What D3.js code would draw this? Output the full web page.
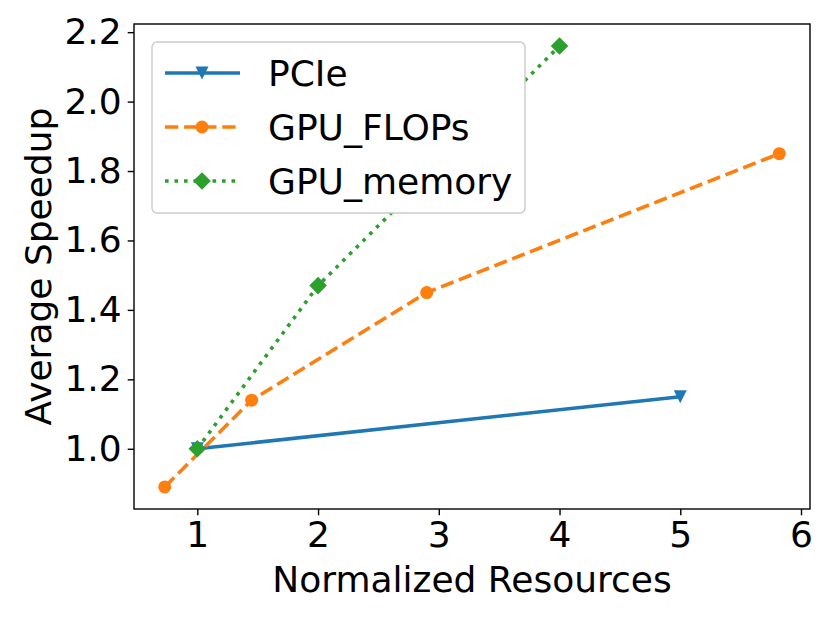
<!DOCTYPE html>
<html>
<meta charset="utf-8">
<script src="https://d3js.org/d3.v7.min.js"></script>
<style>
  body { margin: 0; background: #fff; }
  text { font-family: "DejaVu Sans", sans-serif; fill: #000; }
</style>
<body>
<script>
  // data
  var seriesNames = ["PCIe", "GPU_FLOPs", "GPU_memory"];
  var pcieX = [1, 5];
  var pcieY = [1.0, 1.15];
  var flopsX = [0.73, 1.45, 2.9, 5.82];
  var flopsY = [0.89, 1.14, 1.45, 1.85];
  var memX = [1, 2, 4];
  var memY = [1.0, 1.47, 2.16];
  var xTicks = [1, 2, 3, 4, 5, 6];
  var yTicks = [1.0, 1.2, 1.4, 1.6, 1.8, 2.0, 2.2];

  var width = 830, height = 622;
  var mLeft = 134, mRight = 810, mTop = 24, mBottom = 509;
  var fs = 36;

  var svg = d3.select("body").append("svg")
    .attr("width", width).attr("height", height);

  var xScale = d3.scaleLinear().domain([0.4755, 6.0745]).range([mLeft, mRight]);
  var yScale = d3.scaleLinear().domain([0.8265, 2.2235]).range([mBottom, mTop]);

  var series = [
    { name: seriesNames[0], xs: pcieX, ys: pcieY, color: "#1f77b4", dash: null, marker: "tri" },
    { name: seriesNames[1], xs: flopsX, ys: flopsY, color: "#ff7f0e", dash: "13.3,5.8", marker: "circle" },
    { name: seriesNames[2], xs: memX, ys: memY, color: "#2ca02c", dash: "3.6,5.9", marker: "diamond" }
  ];

  var line = d3.line()
    .x(function(d) { return xScale(d[0]); })
    .y(function(d) { return yScale(d[1]); });

  function drawMarker(g, type, x, y, color) {
    if (type == "circle") {
      g.append("circle").attr("cx", x).attr("cy", y).attr("r", 6.5).attr("fill", color);
    } else if (type == "tri") {
      var s = 6.5;
      g.append("path")
        .attr("d", "M" + (x - s) + "," + (y - s) + "L" + (x + s) + "," + (y - s) + "L" + x + "," + (y + s) + "Z")
        .attr("fill", color);
    } else {
      var s2 = 8.8;
      g.append("path")
        .attr("d", "M" + x + "," + (y - s2) + "L" + (x + s2) + "," + y + "L" + x + "," + (y + s2) + "L" + (x - s2) + "," + y + "Z")
        .attr("fill", color);
    }
  }

  var plot = svg.append("g");
  series.forEach(function(s) {
    var pts = s.xs.map(function(x, i) { return [x, s.ys[i]]; });
    plot.append("path")
      .datum(pts)
      .attr("d", line)
      .attr("fill", "none")
      .attr("stroke", s.color)
      .attr("stroke-width", 3.6)
      .attr("stroke-dasharray", s.dash);
    pts.forEach(function(p) {
      drawMarker(plot, s.marker, xScale(p[0]), yScale(p[1]), s.color);
    });
  });

  // axes
  var axisX = d3.axisBottom(xScale).tickValues(xTicks).tickSize(6.3).tickPadding(6)
    .tickFormat(d3.format("d"));
  var axisY = d3.axisLeft(yScale).tickValues(yTicks).tickSize(6.3).tickPadding(6)
    .tickFormat(d3.format(".1f"));

  var gx = svg.append("g").attr("transform", "translate(0," + mBottom + ")").call(axisX);
  var gy = svg.append("g").attr("transform", "translate(" + mLeft + ",0)").call(axisY);
  [gx, gy].forEach(function(g) {
    g.select(".domain").remove();
    g.selectAll("line").attr("stroke", "#000").attr("stroke-width", 1.4);
    g.selectAll("text").attr("font-size", fs).attr("font-family", "DejaVu Sans").attr("fill", "#000");
  });

  // frame
  svg.append("rect")
    .attr("x", mLeft).attr("y", mTop)
    .attr("width", mRight - mLeft).attr("height", mBottom - mTop)
    .attr("fill", "none").attr("stroke", "#000").attr("stroke-width", 1.4);

  svg.append("text")
    .attr("x", (mLeft + mRight) / 2).attr("y", 592)
    .attr("text-anchor", "middle").attr("font-size", fs)
    .text("Normalized Resources");

  svg.append("text")
    .attr("transform", "translate(51," + (mTop + mBottom) / 2 + ") rotate(-90)")
    .attr("text-anchor", "middle").attr("font-size", fs)
    .text("Average Speedup");

  // legend
  var lg = svg.append("g");
  lg.append("rect")
    .attr("x", 152).attr("y", 42).attr("width", 373).attr("height", 171)
    .attr("rx", 5).attr("fill", "#fff")
    .attr("stroke", "#ccc").attr("stroke-width", 1.4);
  series.forEach(function(s, i) {
    var cy = 73 + i * 54;
    lg.append("line")
      .attr("x1", 165).attr("x2", 240).attr("y1", cy).attr("y2", cy)
      .attr("stroke", s.color).attr("stroke-width", 3.6)
      .attr("stroke-dasharray", s.dash);
    drawMarker(lg, s.marker, 202, cy, s.color);
    lg.append("text")
      .attr("x", 268).attr("y", cy + 13)
      .attr("font-size", fs)
      .text(s.name);
  });
</script>
</body>
</html>
